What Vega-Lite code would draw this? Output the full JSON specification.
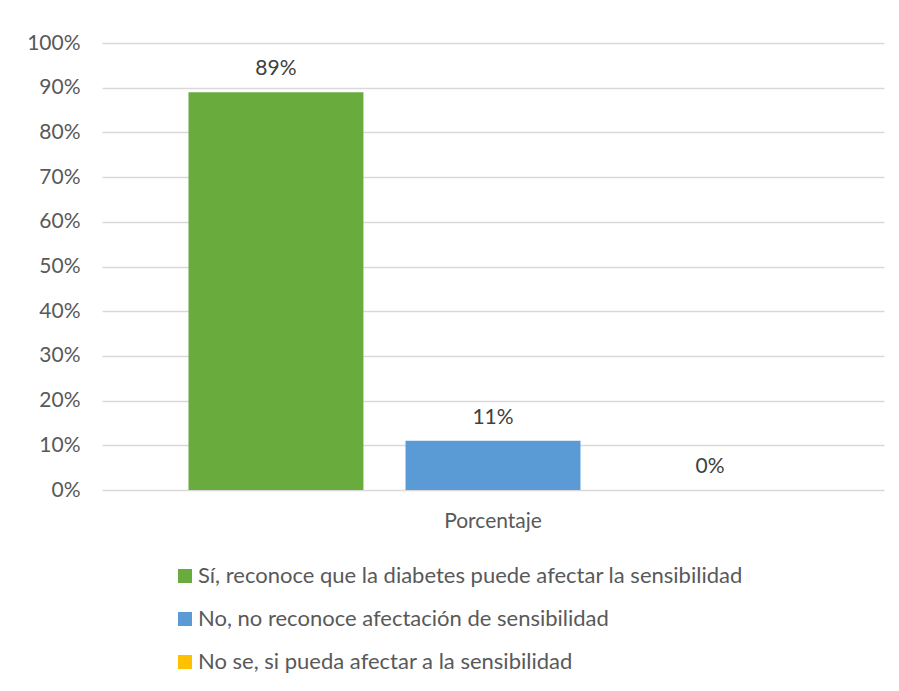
{
  "$schema": "https://vega.github.io/schema/vega-lite/v6.json",
  "width": 782,
  "height": 447,
  "autosize": {"type": "none"},
  "padding": {"left": 102, "top": 43, "right": 15, "bottom": 201},
  "background": "white",
  "data": {
    "values": [
      {"grupo": "Porcentaje", "respuesta": "Sí, reconoce que la diabetes puede afectar la sensibilidad", "orden": 1, "valor": 0.89},
      {"grupo": "Porcentaje", "respuesta": "No, no reconoce afectación de sensibilidad", "orden": 2, "valor": 0.11},
      {"grupo": "Porcentaje", "respuesta": "No se, si pueda afectar a la sensibilidad", "orden": 3, "valor": 0.0}
    ]
  },
  "encoding": {
    "x": {
      "field": "grupo", "type": "nominal",
      "scale": {"paddingInner": 0, "paddingOuter": 0.142},
      "axis": {"title": null, "ticks": false, "domain": false, "labelAngle": 0, "labelFont": "Lato", "labelFontSize": 21, "labelColor": "#595959", "labelPadding": 20}
    },
    "xOffset": {
      "field": "respuesta", "type": "nominal",
      "sort": {"field": "orden"},
      "scale": {"paddingInner": 0.194, "paddingOuter": 0}
    },
    "y": {
      "field": "valor", "type": "quantitative",
      "scale": {"domain": [0, 1], "nice": false},
      "axis": {
        "title": null, "format": ".0%", "values": [0, 0.1, 0.2, 0.3, 0.4, 0.5, 0.6, 0.7, 0.8, 0.9, 1],
        "ticks": false, "domain": false, "labelFont": "Lato", "labelFontSize": 21, "labelColor": "#595959", "labelPadding": 22,
        "gridColor": "#d9d9d9", "gridWidth": 1.5
      }
    }
  },
  "layer": [
    {
      "mark": {"type": "bar"},
      "encoding": {
        "color": {
          "field": "respuesta", "type": "nominal",
          "sort": {"field": "orden"},
          "scale": {
            "domain": ["Sí, reconoce que la diabetes puede afectar la sensibilidad", "No, no reconoce afectación de sensibilidad", "No se, si pueda afectar a la sensibilidad"],
            "range": ["#6aab3e", "#5b9bd5", "#ffc000"]
          },
          "legend": {
            "title": null, "orient": "none", "direction": "vertical",
            "legendX": 72, "legendY": 522,
            "symbolType": "square", "symbolSize": 196, "symbolStrokeWidth": 0,
            "labelFont": "Lato", "labelFontSize": 22, "labelColor": "#595959",
            "rowPadding": 21, "labelOffset": 2, "labelLimit": 800
          }
        }
      }
    },
    {
      "mark": {"type": "text", "baseline": "bottom", "dy": -13, "font": "Lato", "fontSize": 21, "color": "#404040"},
      "encoding": {
        "text": {"field": "valor", "type": "quantitative", "format": ".0%"}
      }
    }
  ],
  "config": {"view": {"stroke": null}}
}
